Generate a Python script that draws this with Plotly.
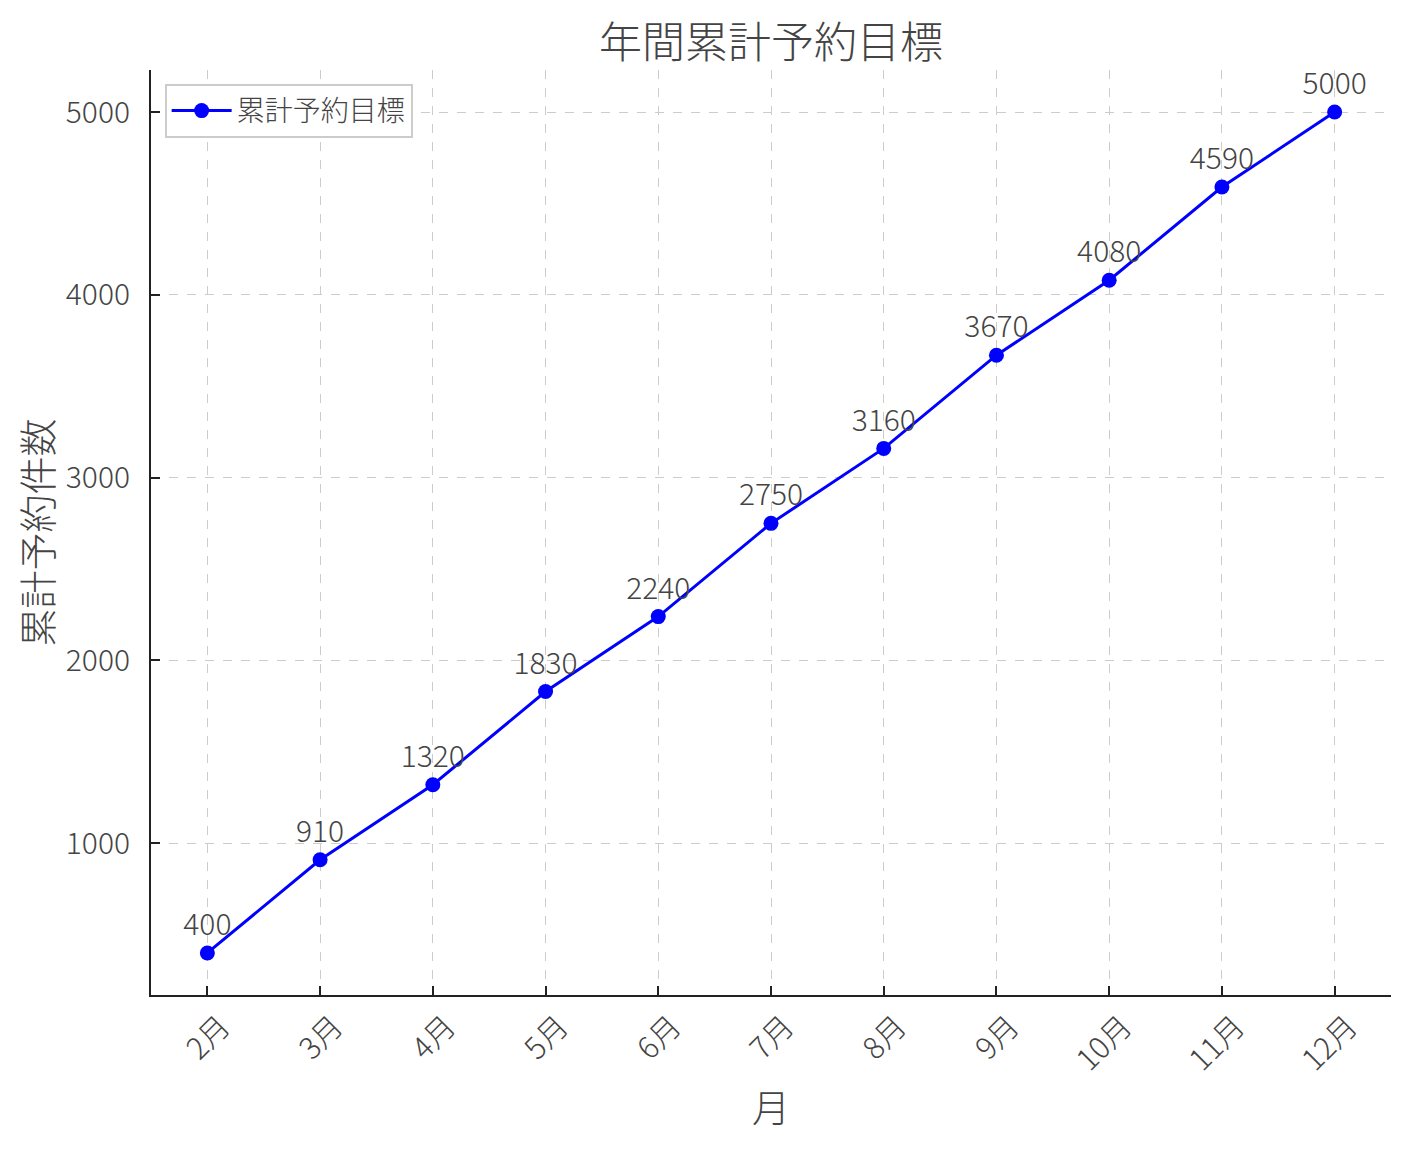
import plotly.graph_objects as go

months = ["2月", "3月", "4月", "5月", "6月", "7月", "8月", "9月", "10月", "11月", "12月"]
targets = [400, 910, 1320, 1830, 2240, 2750, 3160, 3670, 4080, 4590, 5000]
y_ticks = [1000, 2000, 3000, 4000, 5000]

FONT = "Noto Sans CJK JP Light, Noto Sans CJK JP, sans-serif"
TXT = "#444444"
W = 300

fig = go.Figure()
fig.add_trace(go.Scatter(
    x=list(range(len(months))), y=targets, mode="lines+markers+text",
    name="累計予約目標",
    line=dict(color="#0000FF", width=3),
    marker=dict(color="#0000FF", size=15),
    text=[str(v) for v in targets], textposition="top center",
    textfont=dict(family=FONT, size=30, color=TXT, weight=W),
))

fig.update_layout(
    width=1410, height=1149,
    paper_bgcolor="white", plot_bgcolor="white",
    margin=dict(l=143, r=27, t=62, b=162),
    font=dict(family=FONT, color=TXT, weight=W),
    title=dict(text="年間累計予約目標", x=(143 + 1383) / 2 / 1410, xanchor="center",
               y=1 - 35 / 1149, yanchor="middle",
               font=dict(size=43, family=FONT, color=TXT, weight=W)),
    showlegend=True,
    legend=dict(x=0.011, y=0.985, xanchor="left", yanchor="top",
                bgcolor="white", bordercolor="#cccccc", borderwidth=2,
                itemwidth=60,
                font=dict(size=28, family=FONT, color=TXT, weight=W)),
    xaxis=dict(
        range=[-0.5, 10.5], tickmode="array", tickvals=list(range(len(months))), ticktext=months,
        tickangle=-45, ticklabelshift=14, ticklabelstandoff=0,
        showline=True, linecolor="#222222", linewidth=2, mirror=False,
        ticks="inside", ticklen=9, tickwidth=2, tickcolor="#222222",
        showgrid=True, gridcolor="#cccccc", gridwidth=1, griddash="dash",
        zeroline=False,
        tickfont=dict(size=30, family=FONT, color=TXT, weight=W),
        title=dict(text="月", font=dict(size=38, family=FONT, color=TXT, weight=W), standoff=18),
    ),
    yaxis=dict(
        range=[170, 5230], tickmode="array", tickvals=y_ticks,
        showline=True, linecolor="#222222", linewidth=2, mirror=False,
        ticks="inside", ticklen=9, tickwidth=2, tickcolor="#222222",
        showgrid=True, gridcolor="#cccccc", gridwidth=1, griddash="dash",
        zeroline=False, ticklabelstandoff=13,
        tickfont=dict(size=30, family=FONT, color=TXT, weight=W),
        title=dict(text="累計予約件数", font=dict(size=38, family=FONT, color=TXT, weight=W), standoff=14),
    ),
)

fig.write_html("out.html")
